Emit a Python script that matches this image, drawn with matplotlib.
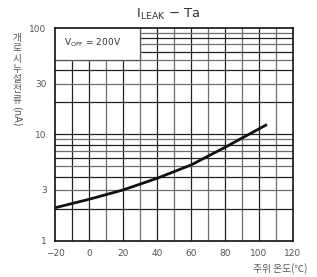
import matplotlib.pyplot as plt
import numpy as np

plt.rcParams['font.family'] = ['Noto Sans CJK KR', 'DejaVu Sans']

# curve
ta = [-20, 0, 20, 40, 60, 80, 104]
ileak = [2.04, 2.45, 3.0, 3.86, 5.15, 7.55, 12.2]

xticks = [-20, 0, 20, 40, 60, 80, 100, 120]
yticks = [1, 3, 10, 30, 100]
ylabel_chars = ['개', '로', '시', '누', '설', '전', '류']

fig = plt.figure(figsize=(3.17, 2.77), dpi=100)
ax = fig.add_axes([55 / 317, 1 - 240.7 / 277, 238 / 317, 212.7 / 277])

ax.set_xlim(-20, 120)
ax.set_yscale('log')
ax.set_ylim(1, 100)

# grid lines
for x in range(-10, 120, 10):
    c = '#222222' if x % 20 == 0 or x < 10 else '#6e6e6e'
    ax.axvline(x, color=c, lw=0.9, zorder=1)
for dec in [1, 10]:
    for m in range(2, 10):
        y = dec * m
        c = '#222222' if m in (2, 4, 6, 8) else '#6e6e6e'
        ax.axhline(y, color=c, lw=0.9, zorder=1)
ax.axhline(10, color='#222222', lw=0.9, zorder=1)

# white box for the condition label
ax.fill_between([-20, 30], 50, 100, color='white', zorder=2)
ax.plot([-20, 30, 30], [50, 50, 100], color='#555555', lw=0.9, zorder=3)
ax.text(-15, 72, 'V$_{\\mathregular{OFF}}$ = 200V', fontsize=6.5, color='#333333',
        va='center', family='DejaVu Sans', zorder=4)

ax.plot(ta, ileak, color='#111111', lw=2, zorder=5)

for s in ax.spines.values():
    s.set_color('#111111')
    s.set_linewidth(1.2)
    s.set_zorder(6)

ax.set_xticks(xticks)
ax.set_xticklabels(['\u221220', '0', '20', '40', '60', '80', '100', '120'])
ax.set_yticks(yticks)
ax.set_yticklabels([str(v) for v in yticks])
ax.yaxis.set_minor_locator(plt.NullLocator())
ax.tick_params(length=0, labelsize=6.5, colors='#555555', pad=6)
for lab in ax.get_xticklabels() + ax.get_yticklabels():
    lab.set_family('DejaVu Sans')

fig.text(0.53, 1 - 14 / 277, 'I$_{\\mathregular{LEAK}}$ \u2212 Ta', ha='center', va='center',
         fontsize=9.5, color='#333333', family='DejaVu Sans')

# stacked vertical y label
for i, ch in enumerate(ylabel_chars):
    fig.text(17 / 317, 1 - (38 + i * 10.3) / 277, ch, ha='center', va='center',
             fontsize=7, color='#555555')
fig.text(17 / 317, 1 - 116 / 277, '(nA)', ha='center', va='center',
         fontsize=7, color='#555555', rotation=270, family='DejaVu Sans')

fig.text(307 / 317, 1 - 269 / 277, '주위 온도(℃)', ha='right', va='center',
         fontsize=7, color='#555555')

fig.savefig('out.png', dpi=100)
